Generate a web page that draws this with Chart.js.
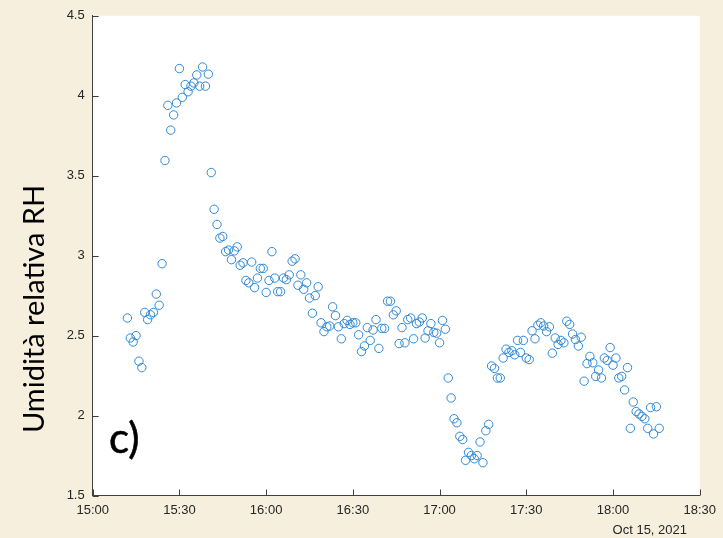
<!DOCTYPE html>
<html>
<head>
<meta charset="utf-8">
<script src="https://cdn.jsdelivr.net/npm/chart.js@4.4.1/dist/chart.umd.min.js"></script>
<style>
  html, body { margin: 0; padding: 0; background: #f6efde; }
  #wrap { width: 723px; height: 538px; position: relative; }
</style>
</head>
<body>
<div id="wrap"><canvas id="chart" width="723" height="538"></canvas></div>
<script>
// minutes after 15:00 (Oct 15, 2021), one sample per minute
const minutes = [
  12, 13, 14, 15, 16, 17, 18, 19, 20, 21, 22, 23, 24, 25, 26, 27, 28, 29, 30, 31,
  32, 33, 34, 35, 36, 37, 38, 39, 40, 41, 42, 43, 44, 45, 46, 47, 48, 49, 50, 51,
  52, 53, 54, 55, 56, 57, 58, 59, 60, 61, 62, 63, 64, 65, 66, 67, 68, 69, 70, 71,
  72, 73, 74, 75, 76, 77, 78, 79, 80, 81, 82, 83, 84, 85, 86, 87, 88, 89, 90, 91,
  92, 93, 94, 95, 96, 97, 98, 99, 100, 101, 102, 103, 104, 105, 106, 107, 108, 109, 110, 111,
  112, 113, 114, 115, 116, 117, 118, 119, 120, 121, 122, 123, 124, 125, 126, 127, 128, 129, 130, 131,
  132, 133, 134, 135, 136, 137, 138, 139, 140, 141, 142, 143, 144, 145, 146, 147, 148, 149, 150, 151,
  152, 153, 154, 155, 156, 157, 158, 159, 160, 161, 162, 163, 164, 165, 166, 167, 168, 169, 170, 171,
  172, 173, 174, 175, 176, 177, 178, 179, 180, 181, 182, 183, 184, 185, 186, 187, 188, 189, 190, 191,
  192, 193, 194, 195, 196
];

// relative humidity readings
const rh = [
  2.61, 2.485, 2.46, 2.50, 2.34, 2.30, 2.645, 2.60, 2.63, 2.645, 2.76, 2.69, 2.95, 3.595, 3.94, 3.785, 3.88, 3.955, 4.17, 3.99,
  4.07, 4.025, 4.06, 4.08, 4.13, 4.06, 4.18, 4.06, 4.135, 3.52, 3.29, 3.195, 3.11, 3.12, 3.025, 3.035, 2.975, 3.03, 3.055, 2.94,
  2.955, 2.845, 2.83, 2.96, 2.80, 2.86, 2.92, 2.92, 2.77, 2.845, 3.025, 2.86, 2.775, 2.775, 2.86, 2.85, 2.88, 2.965, 2.98, 2.815,
  2.88, 2.79, 2.83, 2.735, 2.64, 2.75, 2.805, 2.58, 2.525, 2.555, 2.56, 2.68, 2.625, 2.555, 2.48, 2.575, 2.595, 2.57, 2.58, 2.58,
  2.505, 2.40, 2.435, 2.55, 2.47, 2.535, 2.60, 2.42, 2.545, 2.545, 2.715, 2.715, 2.63, 2.655, 2.45, 2.55, 2.455, 2.60, 2.61, 2.48,
  2.575, 2.585, 2.61, 2.485, 2.53, 2.575, 2.52, 2.515, 2.455, 2.595, 2.54, 2.235, 2.11, 1.98, 1.955, 1.87, 1.85, 1.72, 1.77, 1.75,
  1.73, 1.75, 1.835, 1.705, 1.905, 1.945, 2.31, 2.295, 2.235, 2.235, 2.36, 2.415, 2.395, 2.405, 2.38, 2.47, 2.395, 2.47, 2.36, 2.35,
  2.53, 2.48, 2.565, 2.58, 2.56, 2.525, 2.555, 2.39, 2.485, 2.445, 2.47, 2.455, 2.59, 2.57, 2.51, 2.475, 2.435, 2.49, 2.215, 2.325,
  2.37, 2.33, 2.245, 2.285, 2.235, 2.36, 2.345, 2.425, 2.315, 2.36, 2.235, 2.245, 2.16, 2.30, 1.92, 2.085, 2.025, 2.01, 1.995, 1.98,
  1.92, 2.05, 1.885, 2.055, 1.92
];

const xTickLabels = ['15:00', '15:30', '16:00', '16:30', '17:00', '17:30', '18:00', '18:30'];
const yTickLabels = ['1.5', '2', '2.5', '3', '3.5', '4', '4.5'];
const dateLabel = 'Oct 15, 2021';
const yTitle = 'Umidità relativa RH';
const panelTag = 'c)';

const axisColor = '#404040';
const textColor = '#262626';

// white axes box + inward ticks + extra texts
const decor = {
  id: 'decor',
  beforeDraw(chart) {
    const { ctx, chartArea: a } = chart;
    ctx.save();
    ctx.fillStyle = '#ffffff';
    ctx.fillRect(a.left, a.top, a.right - a.left, a.bottom - a.top);
    ctx.restore();
  },
  afterDraw(chart) {
    const { ctx, chartArea: a, scales } = chart;
    const x = scales.x, y = scales.y;
    ctx.save();
    ctx.strokeStyle = axisColor;
    ctx.lineWidth = 1;
    ctx.beginPath();
    y.ticks.forEach(t => {
      const py = Math.round(y.getPixelForValue(t.value)) + 0.5;
      ctx.moveTo(a.left, py);
      ctx.lineTo(a.left + 6, py);
    });
    x.ticks.forEach(t => {
      const px = Math.round(x.getPixelForValue(t.value)) + 0.5;
      ctx.moveTo(px, a.bottom);
      ctx.lineTo(px, a.bottom - 6);
    });
    ctx.stroke();

    ctx.fillStyle = textColor;
    ctx.font = '13px "Liberation Sans", Arial, sans-serif';
    ctx.textAlign = 'right';
    ctx.textBaseline = 'middle';
    ctx.fillText(dateLabel, 687, 530);

    ctx.fillStyle = '#000000';
    ctx.font = '29px Lato, "Open Sans", sans-serif';
    ctx.textAlign = 'center';
    ctx.textBaseline = 'middle';
    ctx.translate(35, 309);
    ctx.rotate(-Math.PI / 2);
    ctx.fillText(yTitle, 0, 0);
    ctx.restore();

    // panel tag, lightly thickened to a medium weight
    ctx.save();
    ctx.fillStyle = '#000000';
    ctx.strokeStyle = '#000000';
    ctx.lineWidth = 0.6;
    ctx.font = '42px Lato, "Open Sans", sans-serif';
    ctx.textAlign = 'left';
    ctx.textBaseline = 'alphabetic';
    ctx.fillText(panelTag, 109, 453);
    ctx.strokeText(panelTag, 109, 453);
    ctx.restore();
  }
};

new Chart(document.getElementById('chart'), {
  type: 'scatter',
  data: {
    datasets: [{
      data: minutes.map((m, i) => ({ x: m, y: rh[i] })),
      showLine: false,
      pointStyle: 'circle',
      pointRadius: 4.2,
      pointHoverRadius: 4.2,
      pointBorderWidth: 1,
      pointBorderColor: '#2f8ad6',
      pointBackgroundColor: 'rgba(0,0,0,0)'
    }]
  },
  options: {
    responsive: false,
    animation: false,
    devicePixelRatio: 1,
    layout: { padding: { left: 0, right: 23, top: 15, bottom: 0 } },
    plugins: { legend: { display: false }, tooltip: { enabled: false } },
    scales: {
      x: {
        type: 'linear',
        min: 0,
        max: 210,
        afterFit(s) { s.height = 42.5; },
        grid: { display: true, drawOnChartArea: false, drawTicks: false },
        border: { display: true, color: axisColor, width: 1 },
        ticks: {
          stepSize: 30,
          padding: 7,
          maxRotation: 0,
          color: textColor,
          font: { family: '"Liberation Sans", Arial, sans-serif', size: 13 },
          callback: v => xTickLabels[Math.round(v / 30)]
        }
      },
      y: {
        min: 1.5,
        max: 4.5,
        afterFit(s) { s.width = 92.7; },
        grid: { display: true, drawOnChartArea: false, drawTicks: false },
        border: { display: true, color: axisColor, width: 1 },
        ticks: {
          stepSize: 0.5,
          padding: 8,
          color: textColor,
          font: { family: '"Liberation Sans", Arial, sans-serif', size: 13 },
          callback: v => yTickLabels[Math.round((v - 1.5) / 0.5)]
        }
      }
    }
  },
  plugins: [decor]
});
</script>
</body>
</html>
